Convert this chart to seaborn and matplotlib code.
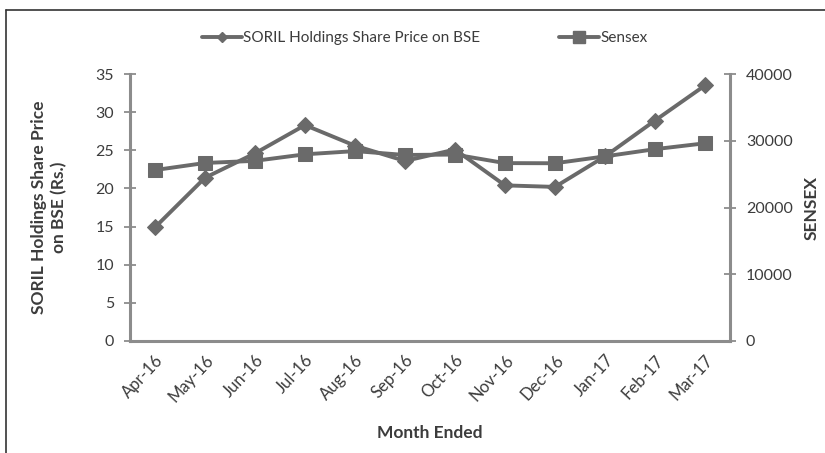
import numpy as np
import pandas as pd
import seaborn as sns
import matplotlib.pyplot as plt
from matplotlib.lines import Line2D

months = ['Apr-16', 'May-16', 'Jun-16', 'Jul-16', 'Aug-16', 'Sep-16',
          'Oct-16', 'Nov-16', 'Dec-16', 'Jan-17', 'Feb-17', 'Mar-17']
soril_price = [14.9, 21.4, 24.6, 28.3, 25.6, 23.6, 25.1, 20.4, 20.2, 24.2, 28.9, 33.5]
sensex = [25610, 26670, 26990, 27970, 28450, 27870, 27930, 26650, 26630, 27660, 28740, 29620]

line_col = '#6a6a6a'
axis_col = '#8c8c8c'
text_col = '#3c3c3c'

sns.set_theme(style='white')
plt.rcParams['font.family'] = ['Lato', 'DejaVu Sans']

df = pd.DataFrame({'month': months, 'soril': soril_price, 'sensex': sensex})
df['pos'] = np.arange(len(df))

fig = plt.figure(figsize=(8.25, 4.53), dpi=100)
ax = fig.add_axes([130 / 825, 1 - 341 / 453, 600 / 825, 267 / 453])
ax2 = ax.twinx()

sns.lineplot(data=df, x='pos', y='soril', ax=ax, color=line_col, lw=2.8,
             marker='D', markersize=8, markeredgecolor=line_col, zorder=3)
sns.lineplot(data=df, x='pos', y='sensex', ax=ax2, color=line_col, lw=2.8,
             marker='s', markersize=10.5, markeredgecolor=line_col, zorder=3)

ax.set_xlim(-0.5, len(months) - 0.5)
ax.set_ylim(0, 35)
ax.set_yticks(range(0, 36, 5))
ax2.set_ylim(0, 40000)
ax2.set_yticks(range(0, 40001, 10000))

# category labels at the points, tick marks between categories
ax.set_xticks(df['pos'])
ax.set_xticklabels(months, rotation=47, ha='right', rotation_mode='anchor',
                   fontsize=12, color=text_col)
ax.set_xticks(np.arange(-0.5, len(months)), minor=True)
ax.tick_params(axis='x', which='major', length=0, pad=8)
ax.tick_params(axis='x', which='minor', length=5, width=1.3, color=axis_col, direction='out')
ax.tick_params(axis='y', length=9, width=1.3, color=axis_col, direction='inout',
               labelsize=11.5, labelcolor=text_col, pad=7)
ax2.tick_params(axis='y', length=9, width=1.3, color=axis_col, direction='inout',
                labelsize=11.5, labelcolor=text_col, pad=7)

for a in (ax, ax2):
    a.spines['top'].set_visible(False)
    for side in ['left', 'right', 'bottom']:
        a.spines[side].set_color(axis_col)
        a.spines[side].set_linewidth(2.2)
ax.spines['right'].set_visible(False)
ax2.spines['left'].set_visible(False)
ax2.spines['bottom'].set_visible(False)

ax.set_xlabel('Month Ended', fontsize=12.5, fontweight='bold', color=text_col, labelpad=14)
ax.set_ylabel('SORIL Holdings Share Price\non BSE (Rs.)', fontsize=12.5,
              fontweight='bold', color=text_col, labelpad=20, linespacing=1.3)
ax2.set_ylabel('SENSEX', fontsize=12.5, fontweight='bold', color=text_col, labelpad=8)

handles = [Line2D([], [], color=line_col, lw=2.8, marker='D', markersize=5.5),
           Line2D([], [], color=line_col, lw=2.8, marker='s', markersize=8)]
if ax.get_legend():
    ax.get_legend().remove()
if ax2.get_legend():
    ax2.get_legend().remove()
fig.legend(handles, ['SORIL Holdings Share Price on BSE', 'Sensex'], loc='center',
           bbox_to_anchor=(0.515, 1 - 38 / 453), ncol=2, frameon=False, fontsize=11,
           handlelength=2.6, handletextpad=0.1, columnspacing=5.2, labelcolor=text_col)

# thin frame on top and left, as in the source
fig.add_artist(Line2D([6 / 825, 6 / 825], [0, 1 - 10 / 453], color='#333333', lw=1.2,
                      transform=fig.transFigure))
fig.add_artist(Line2D([6 / 825, 1], [1 - 10 / 453, 1 - 10 / 453], color='#333333', lw=1.2,
                      transform=fig.transFigure))

fig.savefig('out.png', dpi=100)
